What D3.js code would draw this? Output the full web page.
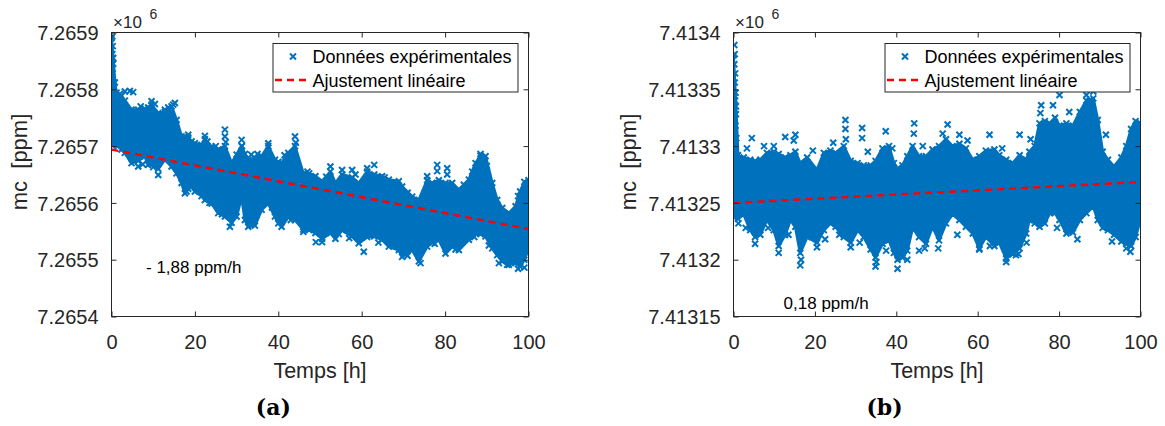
<!DOCTYPE html>
<html><head><meta charset="utf-8">
<script src="https://cdn.jsdelivr.net/npm/d3@7"></script>
<style>
html,body{margin:0;padding:0;background:#fff;}
svg{display:block;font-family:"Liberation Sans",Arial,Helvetica,sans-serif;}
</style></head>
<body><svg id="chart" width="1165" height="426"></svg>
<script>
// ---------- shared ----------
const hourTicks = [0, 20, 40, 60, 80, 100];
const fitHours = [0, 100];

// ---------- panel (a) ----------
const aTicks = [7265400, 7265500, 7265600, 7265700, 7265800, 7265900];
const aTickLabels = ["7.2654", "7.2655", "7.2656", "7.2657", "7.2658", "7.2659"];
const aHours = [0,0.4,0.8,1.2,2.4,3.2,4.8,6.4,8,8.8,9.6,11.2,12.8,14.4,15.6,16.8,17.6,18.4,19.2,20,21.6,22.4,24,25.6,27.2,28.8,30,31.2,32,32.8,34.4,36,37.6,39.2,40,40.8,42.4,44,46,47.4,48.9,50.5,52.5,53.7,55.3,57.7,59.3,61.3,63,64.9,66.5,68.9,69.7,72.1,73.7,75.7,76.9,78.5,80.1,81.7,83.3,85.7,87.3,88.5,89.7,91.3,92.5,93.7,95.3,96.9,98,99,100];
const aUpper = [7265890,7265855,7265812,7265794,7265788,7265780,7265764,7265764,7265766,7265768,7265773,7265758,7265760,7265770,7265746,7265717,7265716,7265715,7265708,7265705,7265702,7265712,7265699,7265694,7265700,7265670,7265685,7265700,7265686,7265676,7265679,7265682,7265700,7265676,7265672,7265670,7265688,7265700,7265652,7265652,7265647,7265638,7265655,7265635,7265650,7265645,7265635,7265655,7265650,7265647,7265641,7265638,7265629,7265611,7265605,7265640,7265635,7265640,7265635,7265635,7265623,7265641,7265670,7265683,7265682,7265635,7265605,7265591,7265582,7265594,7265620,7265637,7265640];
const aLower = [7265705,7265705,7265704,7265702,7265694,7265688,7265670,7265674,7265682,7265667,7265668,7265660,7265676,7265664,7265652,7265635,7265617,7265625,7265629,7265620,7265612,7265605,7265599,7265582,7265576,7265565,7265576,7265611,7265570,7265558,7265560,7265588,7265599,7265576,7265564,7265558,7265575,7265570,7265553,7265552,7265547,7265537,7265547,7265537,7265552,7265541,7265529,7265540,7265541,7265535,7265523,7265517,7265505,7265517,7265497,7265523,7265530,7265535,7265511,7265523,7265517,7265535,7265547,7265545,7265541,7265520,7265508,7265497,7265491,7265494,7265488,7265500,7265519];
const aOutHours = [0.2,0.3,0.2,0.4,0.3,0.5,3.2,4.4,5.2,9.6,10.4,12.8,14.8,15.2,18.4,22.4,27.2,27.2,27.4,31.2,31.3,37.6,44,44.2,52.5,55.3,57.7,61.3,63,75.7,78.1,78.1,80.5,80.5,88.5,6.4,11.2,28.4,46,49,50.5,60.5,74.1,92.9,94.9,97.5,99,2,7,13.6,23,25,33.5,35,41.5,47,51.5,58.5,65.5,71,84.5,86.5,90,97.5,1.5,7.5,10,18,23.5,26.5,33.5,38.5,43,54.5,57,64,71,77.5,82.5,87,90.5];
const aOutValues = [7265893,7265876,7265862,7265845,7265828,7265812,7265796,7265797,7265795,7265779,7265774,7265764,7265773,7265776,7265720,7265718,7265729,7265717,7265707,7265711,7265700,7265705,7265717,7265706,7265664,7265658,7265658,7265661,7265667,7265647,7265667,7265656,7265661,7265650,7265686,7265664,7265649,7265558,7265549,7265531,7265531,7265514,7265494,7265494,7265491,7265484,7265486,7265792,7265770,7265768,7265708,7265700,7265685,7265686,7265684,7265655,7265646,7265650,7265645,7265618,7265632,7265655,7265665,7265612,7265700,7265668,7265663,7265620,7265600,7265580,7265562,7265592,7265570,7265545,7265538,7265530,7265507,7265528,7265518,7265540,7265525];
const aFit = [7265694, 7265554];

// ---------- panel (b) ----------
const bTicks = [7413150, 7413200, 7413250, 7413300, 7413350, 7413400];
const bTickLabels = ["7.41315", "7.4132", "7.41325", "7.4133", "7.41335", "7.4134"];
const bHours = [0,0.6,1.1,2.5,4.1,5.3,6.6,8.2,9.9,11.1,12.7,14,15.2,16.4,18.1,20.5,22.2,23.8,25.1,27.1,28.8,30.5,32,33.7,34.9,36.6,38.2,39.4,40.3,41.5,42.7,44,45.6,47.3,48.9,50.5,52.2,53.8,55.5,57.1,58.8,60.4,62,64.1,65.3,67,68.6,70.3,71.9,72.7,74,75.2,76.5,77.7,79,80.1,81.8,83.4,85.1,86.7,88.4,89.5,90.7,92,93.5,95.3,96.5,97.7,98.8,100];
const bUpper = [7413380,7413335,7413292,7413290,7413288,7413287,7413288,7413294,7413295,7413293,7413290,7413292,7413295,7413285,7413290,7413279,7413294,7413296,7413294,7413300,7413287,7413285,7413283,7413283,7413287,7413298,7413300,7413285,7413280,7413283,7413291,7413300,7413291,7413291,7413297,7413300,7413306,7413300,7413302,7413298,7413288,7413291,7413296,7413297,7413292,7413288,7413285,7413292,7413288,7413295,7413300,7413320,7413322,7413320,7413325,7413318,7413320,7413318,7413330,7413340,7413342,7413323,7413295,7413288,7413282,7413290,7413300,7413315,7413322,7413320];
const bLower = [7413238,7413238,7413236,7413240,7413226,7413220,7413222,7413235,7413226,7413212,7413222,7413235,7413229,7413206,7413220,7413215,7413226,7413232,7413229,7413220,7413215,7413226,7413220,7413209,7413202,7413214,7413217,7413206,7413200,7413202,7413208,7413228,7413220,7413214,7413229,7413217,7413232,7413240,7413235,7413229,7413223,7413210,7413220,7413212,7413215,7413201,7413205,7413210,7413223,7413235,7413232,7413229,7413232,7413241,7413241,7413235,7413223,7413224,7413235,7413241,7413247,7413235,7413228,7413226,7413222,7413216,7413214,7413212,7413220,7413236];
const bOutHours = [0.2,0.3,0.2,0.4,0.3,0.5,0.4,0.6,0.5,0.7,3.3,4.5,9.9,12.7,15.2,14.8,27.5,27.5,27.6,31.6,31.6,37.4,44.4,44.3,51.4,52.6,55.5,62.9,70.3,75.6,75.4,78.5,80.1,86.7,88.4,87.5,1.2,5.3,11.1,16.4,16.6,20.5,28.8,34.9,35.1,40.3,42.7,45.6,50.3,60.4,67,69.4,70,97.5,96.5,7.5,19.5,24.5,33,39,46.5,57.5,66,73,82.5,91.5,3,8.5,13.5,22.5,26,31,37.5,47,55,63,72,79.5,84.5,93];
const bOutValues = [7413389,7413381,7413372,7413364,7413356,7413347,7413340,7413328,7413318,7413307,7413298,7413307,7413300,7413308,7413310,7413305,7413323,7413315,7413306,7413316,7413307,7413313,7413320,7413311,7413311,7413319,7413310,7413310,7413310,7413336,7413329,7413336,7413345,7413345,7413348,7413340,7413232,7413214,7413206,7413195,7413200,7413211,7413211,7413194,7413198,7413192,7413200,7413208,7413210,7413209,7413198,7413204,7413205,7413207,7413210,7413300,7413296,7413303,7413295,7413298,7413300,7413305,7413298,7413306,7413330,7413310,7413228,7413228,7413222,7413218,7413222,7413215,7413208,7413210,7413222,7413212,7413215,7413228,7413218,7413216];
const bFit = [7413250, 7413268.4];

// ---------- labels ----------
const legendLabels = ["Données expérimentales", "Ajustement linéaire"];
const yLabelText = "mc\u00a0 [ppm]";
const xLabelText = "Temps [h]";

const svg = d3.select("#chart");
const AX = "#262626", BLUE = "#0072BD", RED = "#FF0000";
const xPath = "M-3,-3L3,3M-3,3L3,-3";

function panel(cfg) {
  const x = d3.scaleLinear().domain([0, 100]).range([cfg.left, cfg.right]);
  const y = d3.scaleLinear().domain(cfg.domain).range([316.5, 32.5]);
  const g = svg.append("g");

  const clipId = "clip" + cfg.id;
  svg.append("clipPath").attr("id", clipId).append("rect")
    .attr("x", cfg.left).attr("y", 32.5).attr("width", cfg.right - cfg.left).attr("height", 284);
  const pg = g.append("g").attr("clip-path", `url(#${clipId})`);

  const idx = d3.range(cfg.hours.length);
  pg.append("path")
    .attr("d", d3.area().x(i => x(cfg.hours[i])).y0(i => y(cfg.lower[i])).y1(i => y(cfg.upper[i]))(idx))
    .attr("fill", BLUE).attr("stroke", BLUE).attr("stroke-width", 3).attr("stroke-linejoin", "round");

  const pts = [];
  idx.forEach(i => { pts.push([cfg.hours[i], cfg.upper[i]]); pts.push([cfg.hours[i], cfg.lower[i]]); });
  cfg.outHours.forEach((h, i) => pts.push([h, cfg.outValues[i]]));
  pg.selectAll("path.m").data(pts).join("path").attr("class", "m")
    .attr("transform", d => `translate(${x(d[0])},${y(d[1])})`)
    .attr("d", xPath).attr("stroke", BLUE).attr("stroke-width", 2).attr("fill", "none");

  // fit line
  pg.append("path")
    .attr("d", d3.line().x((d, i) => x(fitHours[i])).y(d => y(d))(cfg.fit))
    .attr("stroke", RED).attr("stroke-width", 2.4).attr("stroke-dasharray", "7,5").attr("fill", "none");

  // axes box
  g.append("rect").attr("x", cfg.left).attr("y", 32.5).attr("width", cfg.right - cfg.left).attr("height", 284)
    .attr("fill", "none").attr("stroke", AX).attr("stroke-width", 1);

  const axB = d3.axisBottom(x).tickValues(hourTicks).tickSizeInner(-5).tickSizeOuter(0).tickPadding(14);
  const gb = g.append("g").attr("transform", "translate(0,316.5)").call(axB);
  const axT = d3.axisTop(x).tickValues(hourTicks).tickSizeInner(-5).tickSizeOuter(0).tickFormat("");
  g.append("g").attr("transform", "translate(0,32.5)").call(axT);
  const axL = d3.axisLeft(y).tickValues(cfg.ticks).tickSizeInner(-5).tickSizeOuter(0).tickPadding(13)
    .tickFormat((d, i) => cfg.tickLabels[i]);
  const gl = g.append("g").attr("transform", `translate(${cfg.left},0)`).call(axL);
  const axR = d3.axisRight(y).tickValues(cfg.ticks).tickSizeInner(-5).tickSizeOuter(0).tickFormat("");
  g.append("g").attr("transform", `translate(${cfg.right},0)`).call(axR);
  g.selectAll(".domain").remove();
  g.selectAll(".tick line").attr("stroke", AX);
  g.selectAll(".tick text").attr("fill", AX).attr("font-size", "20px").attr("font-family", "Liberation Sans, Arial, sans-serif");
  gb.selectAll(".tick text").attr("dy", null).attr("y", 32);
  gl.selectAll(".tick text").attr("dy", "0.36em");

  // exponent
  g.append("text").attr("x", cfg.left + 1.5).attr("y", 27.5).attr("fill", AX).attr("font-size", "17px").text("\u00d710");
  g.append("text").attr("x", cfg.left + 38).attr("y", 19).attr("fill", AX).attr("font-size", "14px").text("6");

  // axis labels
  g.append("text").attr("x", (cfg.left + cfg.right) / 2).attr("y", 378).attr("text-anchor", "middle")
    .attr("fill", AX).attr("font-size", "21.5px").text(xLabelText);
  g.append("text").attr("transform", `translate(${cfg.ylabX},162) rotate(-90)`).attr("text-anchor", "middle")
    .attr("fill", AX).attr("font-size", "22px").text(yLabelText);

  // legend
  const lw = 245, lx = cfg.right - 10.5 - lw, ly = 43.5, lh = 48.5;
  g.append("rect").attr("x", lx).attr("y", ly).attr("width", lw).attr("height", lh)
    .attr("fill", "#fff").attr("stroke", AX).attr("stroke-width", 1);
  g.append("path").attr("transform", `translate(${lx + 20},56.5)`).attr("d", xPath)
    .attr("stroke", BLUE).attr("stroke-width", 2).attr("fill", "none");
  g.append("line").attr("x1", lx + 2).attr("x2", lx + 37).attr("y1", 80).attr("y2", 80)
    .attr("stroke", RED).attr("stroke-width", 2.4).attr("stroke-dasharray", "7,5");
  g.append("text").attr("x", lx + 39.5).attr("y", 63).attr("font-size", "18px").attr("fill", "#000").text(legendLabels[0]);
  g.append("text").attr("x", lx + 39.5).attr("y", 86.5).attr("font-size", "18px").attr("fill", "#000").text(legendLabels[1]);

  // annotation
  g.append("text").attr("x", cfg.noteX).attr("y", cfg.noteY).attr("font-size", "17px").attr("fill", "#000").text(cfg.note);

  // caption
  g.append("text").attr("x", cfg.capX).attr("y", 415).attr("text-anchor", "middle")
    .attr("font-family", "DejaVu Serif, serif").attr("font-weight", "bold").attr("font-size", "22px")
    .attr("fill", "#000").text(cfg.caption);
}

panel({ id: "a", left: 111.5, right: 528.5, domain: [7265400, 7265900], ticks: aTicks, tickLabels: aTickLabels,
  hours: aHours, upper: aUpper, lower: aLower, outHours: aOutHours, outValues: aOutValues, fit: aFit,
  ylabX: 26.5, note: "- 1,88 ppm/h", noteX: 146, noteY: 272.5, caption: "(a)", capX: 273.3 });
panel({ id: "b", left: 733.5, right: 1140.5, domain: [7413150, 7413400], ticks: bTicks, tickLabels: bTickLabels,
  hours: bHours, upper: bUpper, lower: bLower, outHours: bOutHours, outValues: bOutValues, fit: bFit,
  ylabX: 636, note: "0,18 ppm/h", noteX: 783.6, noteY: 309, caption: "(b)", capX: 884.5 });
</script></body></html>
